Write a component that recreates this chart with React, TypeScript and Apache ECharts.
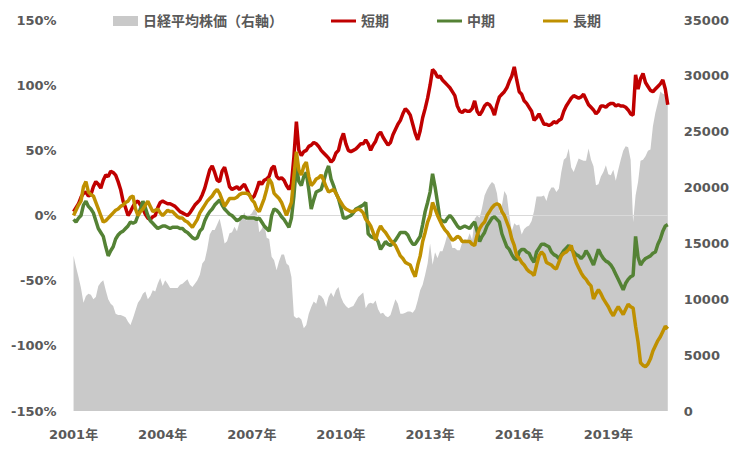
import React, { useEffect, useRef } from "react";
import * as echarts from "echarts";

// Monthly categories: 2001-05 .. 2021-05 (241 points)
const START_YEAR = 2001;
const START_MONTH = 5;
const N_POINTS = 241;
const months: string[] = [];
for (let i = 0; i < N_POINTS; i++) {
  const t = START_YEAR * 12 + (START_MONTH - 1) + i;
  months.push(`${Math.floor(t / 12)}-${String((t % 12) + 1).padStart(2, "0")}`);
}

const nikkei: number[] = [
  13900, 12900, 12000, 11000, 9700, 10300, 10500, 10400,
  10000, 10200, 11200, 11500, 11700, 10800, 10000, 9600, 9400, 8700, 8600, 8600,
  8500, 8400, 8000, 7700, 8300, 9000, 9700, 10000, 10500, 10700, 10000, 10300,
  10800, 10700, 11400, 11900, 11200, 11700, 11400, 11000, 11000, 11000, 11000, 11300,
  11400, 11600, 11800, 11300, 11100, 11400, 11700, 12200, 13200, 13500, 14500, 15800,
  16200, 16200, 16700, 17200, 16200, 15000, 15200, 15900, 16000, 16500, 16100, 16900,
  17300, 17800, 17000, 17500, 17700, 18100, 17800, 16000, 16300, 16800, 15500, 15400,
  13800, 13500, 12600, 13400, 14000, 14000, 13200, 13000, 12000, 8500, 8300, 8400,
  8200, 7400, 7700, 8700, 9300, 9800, 9600, 10400, 10300, 10000, 9300, 10200,
  10600, 10200, 10800, 11100, 10200, 9700, 9400, 9200, 9300, 9400, 9800, 10200,
  10400, 10600, 9200, 9600, 9700, 9600, 9900, 9100, 8700, 8800, 8500, 8400,
  8600, 9300, 10000, 9600, 8700, 8700, 8800, 8900, 8900, 8800, 9100, 9900,
  10800, 11300, 12200, 13200, 15000, 13100, 14200, 13700, 14300, 14300, 15000, 15800,
  15400, 14600, 14600, 14400, 14400, 15100, 15400, 15300, 15900, 15300, 17200, 17500,
  17300, 18200, 19300, 19800, 20200, 20500, 20300, 19500, 17800, 18400, 19700, 19300,
  17500, 16100, 16800, 16600, 16700, 15800, 16300, 16500, 16600, 17000, 17900, 19200,
  19200, 19200, 19300, 18800, 19600, 20000, 20000, 19600, 19900, 21400, 22500, 22700,
  23500, 21800, 21400, 22000, 22600, 22500, 22400, 22400, 23500, 22500, 21900, 20200,
  20300, 21000, 21400, 22000, 21200, 21100, 21600, 20600, 21600, 22500, 23300, 23700,
  23600, 22500, 16900, 19300, 20500, 22400, 22500, 22800, 23300, 23400, 25500, 26700,
  27600, 28600, 28400, 28300, 27800,
];

const shortTerm: number[] = [
  3, 6, 9, 14, 17, 18, 15, 16, 22, 26, 24, 21,
  27, 31, 30, 34, 33, 31, 26, 20, 11, 6, 0, 3,
  7, 10, 11, 8, 5, 1, -2, -3, -1, 0, 6, 10,
  11, 10, 9, 9, 8, 7, 5, 3, 2, 1, 0, 2,
  5, 8, 10, 12, 16, 21, 28, 35, 38, 33, 27, 26,
  34, 37, 30, 22, 20, 21, 22, 20, 22, 24, 20, 16,
  13, 15, 20, 26, 24, 27, 28, 30, 36, 38, 30, 28,
  29, 27, 23, 20, 24, 45, 72, 50, 46, 49, 50, 53,
  54, 56, 55, 53, 50, 48, 46, 44, 41, 43, 48, 50,
  58, 63, 55, 50, 49, 50, 51, 53, 55, 55, 58, 55,
  50, 54, 57, 62, 64, 60, 57, 54, 56, 62, 66, 70,
  73, 78, 82, 80, 77, 70, 63, 58, 65, 75, 82, 90,
  100, 112, 110, 106, 107, 104, 102, 100, 98, 95, 92, 84,
  80, 79, 81, 80, 80, 82, 88, 80, 77, 80, 84, 86,
  85, 82, 77, 85, 91, 93, 95, 98, 103, 107, 114, 104,
  95, 93, 88, 86, 83, 80, 73, 75, 78, 74, 70, 70,
  69, 70, 72, 71, 73, 74, 80, 84, 87, 90, 92, 91,
  90, 91, 93, 89, 85, 83, 81, 78, 80, 84, 84, 83,
  85, 86, 86, 84, 85, 84, 84, 83, 81, 78, 77, 108,
  97, 105, 109, 102, 99, 96, 95, 97, 99, 101, 104, 97,
  85,
];

const midTerm: number[] = [
  -3, -5, -2, 0, 8, 11, 7, 5, 2, -4, -10, -13,
  -16, -24, -31, -27, -24, -18, -15, -13, -12, -10, -8, -5,
  -6, -5, 0, 5, 11, 6, 0, -4, -6, -8, -10, -9,
  -8, -8, -9, -10, -9, -9, -9, -10, -10, -12, -13, -15,
  -17, -18, -17, -12, -10, -4, 0, 3, 5, 8, 10, 12,
  8, 5, 3, 1, 0, -2, -4, -3, -1, -1, -2, -2,
  -2, -2, -3, -2, -5, -8, -10, -12, 0, 5, 4, 2,
  -1, -3, -6, -9, -2, 15, 38, 26, 23, 30, 33, 20,
  5, 12, 18, 19, 20, 26, 33, 38, 28, 23, 17, 13,
  6, -2, -2, -1, 0, 2, 5, 6, 7, 8, 10, -14,
  -16, -17, -17, -20, -26, -23, -20, -22, -23, -21, -19, -16,
  -13, -13, -13, -15, -19, -22, -22, -19, -16, -7, 3, 10,
  18, 32, 22, 10, -3, -4, -5, -2, 0, -2, -5, -8,
  -10, -9, -8, -9, -10, -7, -5, -12, -20, -16, -13, -8,
  -5, -2, -1, -3, -5, -14, -19, -24, -26, -30, -33, -34,
  -28, -26, -26, -28, -29, -33, -36, -28, -25, -22, -22, -23,
  -24, -28, -30, -31, -33, -30, -27, -25, -23, -26, -28, -30,
  -31, -33, -31, -27, -30, -34, -38, -32, -26, -30, -33, -35,
  -36, -38, -41, -45, -49, -53, -57, -52, -49, -47, -46, -16,
  -32, -38, -35, -33, -32, -31, -29, -28, -22, -18, -12, -8,
  -7,
];

const longTerm: number[] = [
  0, 4, 8, 11, 22, 26, 18, 16, 15, 10, 5, 0,
  -5, -4, -2, 0, 2, 4, 5, 7, 8, 10, 11, 14,
  15, 5, 0, 3, 5, 8, 11, 7, 3, 4, 5, 2,
  0, 2, 4, 3, 3, 1, -1, -2, -2, -4, -5, -7,
  -9, -6, -3, 2, 5, 8, 11, 13, 15, 18, 20, 17,
  12, 7, 10, 13, 13, 13, 14, 16, 17, 17, 17, 16,
  12, 10, 5, 3, 8, 13, 20, 28, 25, 17, 15, 13,
  10, 5, 0, 5, 10, 30, 49, 35, 31, 38, 41, 30,
  23, 25, 28, 29, 31, 27, 22, 18, 19, 20, 17, 13,
  10, 7, 5, 4, 3, 3, 4, 5, 4, 2, -3, -5,
  -8, -13, -19, -12, -8, -11, -13, -16, -19, -21, -23, -27,
  -31, -33, -36, -37, -38, -43, -47, -38, -31, -20, -13, -5,
  0, 10, 5, 0, -4, -8, -11, -13, -16, -19, -18, -16,
  -17, -20, -20, -20, -20, -22, -23, -15, -10, -7, -5, 0,
  3, 6, 8, 9, 8, 3, 0, -5, -10, -18, -23, -31,
  -33, -36, -38, -41, -43, -44, -46, -38, -31, -28, -30, -36,
  -37, -38, -40, -41, -36, -31, -29, -28, -26, -23, -30, -36,
  -40, -44, -47, -49, -52, -54, -64, -60, -57, -60, -64, -67,
  -70, -74, -77, -73, -70, -73, -76, -72, -68, -70, -71, -85,
  -97, -113, -115, -116, -114, -110, -104, -100, -96, -93, -89, -85,
  -87,
];

const seriesNames = ["日経平均株価（右軸）", "短期", "中期", "長期"];
const LABEL_EVERY = 36;

const TEXT_COLOR = "#595959";
const FONT = "'DejaVu Sans', 'Noto Sans CJK JP', sans-serif";
const LINE_ICON = "path://M0,0H25V3H0Z";

export default function App() {
  const ref = useRef<HTMLDivElement>(null);

  useEffect(() => {
    if (!ref.current) return;
    const chart = echarts.init(ref.current, undefined, { renderer: "svg" });
    const axisLabelStyle = {
      color: TEXT_COLOR,
      fontFamily: FONT,
      fontSize: 13,
      fontWeight: "bold" as const,
    };
    chart.setOption({
      animation: false,
      backgroundColor: "#ffffff",
      grid: { left: 61, right: 61, top: 12, bottom: 41 },
      legend: {
        left: 100,
        top: 1,
        itemWidth: 25,
        itemHeight: 10,
        itemGap: 48,
        textStyle: { color: TEXT_COLOR, fontFamily: FONT, fontSize: 14, fontWeight: "bold" },
        data: [
          { name: seriesNames[0], icon: "rect" },
          { name: seriesNames[1], icon: LINE_ICON },
          { name: seriesNames[2], icon: LINE_ICON },
          { name: seriesNames[3], icon: LINE_ICON },
        ],
      },
      xAxis: {
        type: "category",
        data: months,
        boundaryGap: false,
        axisLine: { show: false },
        axisTick: { show: false },
        splitLine: { show: false },
        axisLabel: {
          ...axisLabelStyle,
          margin: 17,
          interval: (index: number) => index % LABEL_EVERY === 0,
          formatter: (v: string) => `${v.slice(0, 4)}年`,
        },
      },
      yAxis: [
        {
          type: "value",
          min: -150,
          max: 150,
          interval: 50,
          axisLine: { show: false },
          axisTick: { show: false },
          splitLine: { show: false },
          axisLabel: { ...axisLabelStyle, margin: 17, formatter: "{value}%" },
        },
        {
          type: "value",
          min: 0,
          max: 35000,
          interval: 5000,
          axisLine: { show: false },
          axisTick: { show: false },
          splitLine: { show: false },
          axisLabel: { ...axisLabelStyle, margin: 16, formatter: (v: number) => String(v) },
        },
      ],
      series: [
        {
          name: seriesNames[0],
          type: "line",
          yAxisIndex: 1,
          data: nikkei,
          symbol: "none",
          z: 1,
          color: "#c9c9c9",
          lineStyle: { width: 0, color: "#c9c9c9" },
          areaStyle: { color: "#c9c9c9", opacity: 1 },
        },
        {
          name: seriesNames[1],
          type: "line",
          yAxisIndex: 0,
          data: shortTerm,
          symbol: "none",
          z: 3,
          color: "#c00000",
          lineStyle: { width: 3.5, color: "#c00000" },
          markLine: {
            silent: true,
            z: 2,
            symbol: "none",
            label: { show: false },
            lineStyle: { color: "#d9d9d9", width: 1, type: "solid" },
            data: [{ yAxis: 0 }],
          },
        },
        {
          name: seriesNames[2],
          type: "line",
          yAxisIndex: 0,
          data: midTerm,
          symbol: "none",
          z: 3,
          color: "#548235",
          lineStyle: { width: 3.5, color: "#548235" },
        },
        {
          name: seriesNames[3],
          type: "line",
          yAxisIndex: 0,
          data: longTerm,
          symbol: "none",
          z: 3,
          color: "#bf9000",
          lineStyle: { width: 3.5, color: "#bf9000" },
        },
      ],
    });
    return () => chart.dispose();
  }, []);

  return <div ref={ref} style={{ width: 724, height: 444 }} />;
}
